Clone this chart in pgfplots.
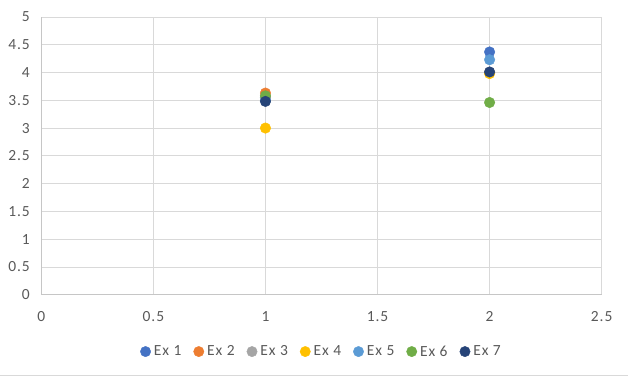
\documentclass[border=0pt]{standalone}
\usepackage{pgfplots}
\pgfplotsset{compat=1.18}
\usepackage{fontspec}
\setmainfont{Carlito}[LetterSpace=6]
\definecolor{c1}{HTML}{4472C4}
\definecolor{c2}{HTML}{ED7D31}
\definecolor{c3}{HTML}{A5A5A5}
\definecolor{c4}{HTML}{FFC000}
\definecolor{c5}{HTML}{5B9BD5}
\definecolor{c6}{HTML}{70AD47}
\definecolor{c7}{HTML}{264478}
\definecolor{txt}{HTML}{595959}
\definecolor{grd}{HTML}{D9D9D9}
\begin{document}
\begin{tikzpicture}
\begin{axis}[
  at={(0pt,0pt)}, anchor=origin,
  scale only axis, width=561pt, height=278pt,
  xmin=0, xmax=2.5, ymin=0, ymax=5,
  xtick={0,0.5,...,2.5}, ytick={0,0.5,...,5},
  xticklabels={0,0.5,1,1.5,2,2.5},
  yticklabels={0,0.5,1,1.5,2,2.5,3,3.5,4,4.5,5},
  grid=major, grid style={grd, line width=0.75pt},
  axis x line*=bottom, axis y line*=left,
  axis line style={draw=grd!80!black!70, line width=0.75pt, -},
  major tick length=0pt,
  tick label style={font=\fontsize{15.5pt}{17pt}\selectfont, text=txt},
  xticklabel style={yshift=-13pt},
  yticklabel style={xshift=-8pt},
  /pgf/number format/assume math mode=true,
  legend columns=7,
  legend style={at={(rel axis cs:0.5,-0.205)}, anchor=center, draw=none, fill=none,
    font=\fontsize{15.5pt}{17pt}\selectfont, text=txt,
    /tikz/every odd column/.append style={column sep=1pt},
    /tikz/every even column/.append style={column sep=10pt}},
  legend cell align=left,
  legend image code/.code={\fill[#1] (0pt,0pt) circle (5.2pt);},
  every axis plot/.append style={only marks, mark=*, mark size=5.3pt},
]
\addplot[c1, mark options={fill=c1, draw=c1}] coordinates {(1,3.55) (2,4.37)};
\addlegendentry{Ex 1}
\addplot[c2, mark options={fill=c2, draw=c2}] coordinates {(1,3.63) (2,4.0)};
\addlegendentry{Ex 2}
\addplot[c3, mark options={fill=c3, draw=c3}] coordinates {(1,3.55) (2,4.0)};
\addlegendentry{Ex 3}
\addplot[c4, mark options={fill=c4, draw=c4}] coordinates {(1,3.0) (2,3.98)};
\addlegendentry{Ex 4}
\addplot[c5, mark options={fill=c5, draw=c5}] coordinates {(1,3.5) (2,4.23)};
\addlegendentry{Ex 5}
\addplot[c6, mark options={fill=c6, draw=c6}] coordinates {(1,3.58) (2,3.46)};
\addlegendentry{Ex 6}
\addplot[c7, mark options={fill=c7, draw=c7}] coordinates {(1,3.48) (2,4.01)};
\addlegendentry{Ex 7}
\end{axis}
\draw[grd, line width=0.75pt] (-41pt,-81pt) -- (587pt,-81pt);
\path[use as bounding box] (-41pt,-83pt) rectangle (587pt,295pt);
\end{tikzpicture}
\end{document}
